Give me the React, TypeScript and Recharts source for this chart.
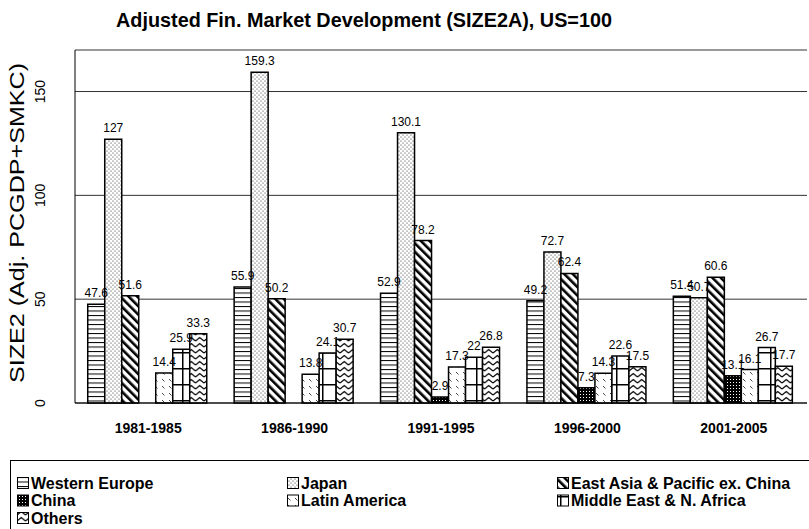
import { BarChart, Bar, XAxis, YAxis, CartesianGrid, ReferenceLine, LabelList } from "recharts";

const categories = ["1981-1985", "1986-1990", "1991-1995", "1996-2000", "2001-2005"];
const westernEurope = [47.6, 55.9, 52.9, 49.2, 51.4];
const japan = [127, 159.3, 130.1, 72.7, 50.7];
const eastAsia = [51.6, 50.2, 78.2, 62.4, 60.6];
const china = [null, null, 2.9, 7.3, 13.1];
const latinAmerica = [14.4, 13.8, 17.3, 14.3, 16.1];
const middleEast = [25.9, 24.1, 22, 22.6, 26.7];
const others = [33.3, 30.7, 26.8, 17.5, 17.7];
const yTicks = [0, 50, 100, 150];

const series = [
  { key: "we", name: "Western Europe", fill: "url(#p-we)" },
  { key: "jp", name: "Japan", fill: "url(#p-jp)" },
  { key: "eap", name: "East Asia & Pacific ex. China", fill: "url(#p-eap)" },
  { key: "cn", name: "China", fill: "url(#p-cn)" },
  { key: "la", name: "Latin America", fill: "url(#p-la)" },
  { key: "me", name: "Middle East & N. Africa", fill: "url(#p-me)" },
  { key: "ot", name: "Others", fill: "url(#p-ot)" },
];

const data = categories.map((name, i) => ({
  name,
  we: westernEurope[i],
  jp: japan[i],
  eap: eastAsia[i],
  cn: china[i],
  la: latinAmerica[i],
  me: middleEast[i],
  ot: others[i],
}));

const FONT = "'Liberation Sans', Arial, sans-serif";

// legend grid: 3 columns, rows filled left to right
const legendCols = [17, 287, 557];
const legendRows = [483, 500.5, 518];

function Patterns() {
  return (
    <defs>
      <pattern id="p-we" width="8" height="4.5" patternUnits="userSpaceOnUse">
        <rect width="8" height="4.5" fill="#fff" />
        <rect width="8" height="1" fill="#000" />
      </pattern>
      <pattern id="p-jp" width="4" height="4" patternUnits="userSpaceOnUse">
        <rect width="4" height="4" fill="#fff" />
        <circle cx="1" cy="1" r="0.6" fill="#222" />
        <circle cx="3" cy="3" r="0.6" fill="#222" />
      </pattern>
      <pattern id="p-eap" width="6" height="6" patternUnits="userSpaceOnUse" patternTransform="rotate(-45)">
        <rect width="6" height="6" fill="#fff" />
        <rect width="2.6" height="6" fill="#000" />
      </pattern>
      <pattern id="p-cn" width="3" height="3" patternUnits="userSpaceOnUse">
        <rect width="3" height="3" fill="#000" />
        <rect x="1" y="1" width="1" height="1" fill="#fff" />
      </pattern>
      <pattern id="p-la" width="7" height="7" patternUnits="userSpaceOnUse">
        <rect width="7" height="7" fill="#fff" />
        <line x1="1" y1="1" x2="3.5" y2="3.5" stroke="#333" strokeWidth="0.9" />
      </pattern>
      <pattern id="p-me" width="14" height="16" patternUnits="userSpaceOnUse">
        <rect width="14" height="16" fill="#fff" />
        <rect width="1.5" height="16" fill="#000" />
        <rect width="14" height="1.5" fill="#000" />
      </pattern>
      <pattern id="p-ot" width="8.5" height="6" patternUnits="userSpaceOnUse">
        <rect width="8.5" height="6" fill="#fff" />
        <path d="M0,5 L4.25,1.5 L8.5,5" stroke="#000" strokeWidth="1.2" fill="none" />
      </pattern>
    </defs>
  );
}

function CategoryTick({ x, y, payload }: any) {
  return (
    <text x={x} y={y + 30} textAnchor="middle" fontFamily={FONT} fontSize={14} fontWeight="bold" fill="#000">
      {payload.value}
    </text>
  );
}

function ValueTick({ y, payload }: any) {
  return (
    <text
      transform={`translate(40, ${y}) rotate(-90)`}
      textAnchor="middle"
      dominantBaseline="central"
      fontFamily={FONT}
      fontSize={14}
      fill="#000"
    >
      {payload.value}
    </text>
  );
}

export default function App() {
  return (
    <div style={{ position: "absolute", left: 0, top: 0, width: 809, height: 529, overflow: "hidden", background: "#fff" }}>
      <BarChart
        width={809}
        height={529}
        data={data}
        margin={{ top: 50, right: 2, bottom: 96, left: 0 }}
        barCategoryGap="8.7%"
        barGap={0}
      >
        <CartesianGrid vertical={false} stroke="#333" />
        <XAxis
          xAxisId="edge"
          type="number"
          domain={[0, 5]}
          ticks={[0, 1, 2, 3, 4, 5]}
          allowDataOverflow
          mirror
          height={6}
          tick={false}
          tickSize={6}
          axisLine={{ stroke: "#000" }}
          tickLine={{ stroke: "#000" }}
        />
        <XAxis
          dataKey="name"
          height={30}
          axisLine={false}
          tickLine={false}
          tickSize={0}
          tickMargin={0}
          interval={0}
          tick={<CategoryTick />}
        />
        <YAxis
          width={75}
          domain={[0, 170]}
          ticks={yTicks}
          interval={0}
          axisLine={{ stroke: "#000" }}
          tickLine={false}
          tick={<ValueTick />}
        />
        <YAxis
          yAxisId="right"
          orientation="right"
          width={0}
          domain={[0, 170]}
          tick={false}
          tickLine={false}
          axisLine={{ stroke: "#000" }}
        />
        <ReferenceLine y={170} stroke="#999" />
        {series.map((s) => (
          <Bar
            key={s.key}
            dataKey={s.key}
            name={s.name}
            fill={s.fill}
            stroke="#000"
            strokeWidth={1.5}
            isAnimationActive={false}
          >
            <LabelList
              dataKey={s.key}
              position="top"
              offset={7}
              fontSize={12}
              fontFamily={FONT}
              fill="#000"
              formatter={(v: any) => (v == null ? "" : v)}
            />
          </Bar>
        ))}
      </BarChart>
      <svg
        width={809}
        height={529}
        style={{ position: "absolute", left: 0, top: 0, pointerEvents: "none" }}
      >
        <Patterns />
        <text x={116} y={27} fontFamily={FONT} fontSize={21} fontWeight="bold" fill="#000" textLength={496} lengthAdjust="spacingAndGlyphs">
          Adjusted Fin. Market Development (SIZE2A), US=100
        </text>
        <text
          transform="translate(17, 223) rotate(-90)"
          textAnchor="middle"
          dominantBaseline="central"
          fontFamily={FONT}
          fontSize={20}
          fill="#000"
          textLength={320}
          lengthAdjust="spacingAndGlyphs"
        >
          SIZE2 (Adj. PCGDP+SMKC)
        </text>
        <rect x={10.5} y={460.5} width={820} height={120} fill="none" stroke="#000" />
        {series.map((s, i) => {
          const cx = legendCols[i % 3];
          const cy = legendRows[Math.floor(i / 3)];
          return (
            <g key={s.key}>
              <rect x={cx + 0.5} y={cy - 5.5} width={11} height={11} fill={s.fill} stroke="#000" />
              <text x={cx + 14} y={cy} dominantBaseline="central" fontFamily={FONT} fontSize={16} fontWeight="bold" fill="#000">
                {s.name}
              </text>
            </g>
          );
        })}
      </svg>
    </div>
  );
}
